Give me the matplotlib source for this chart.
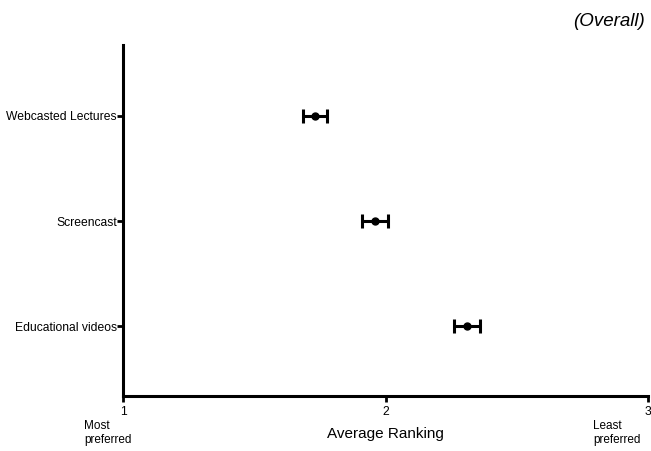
import matplotlib.pyplot as plt

plt.rcParams['font.family'] = ['Liberation Sans', 'DejaVu Sans']

categories = ['Educational videos', 'Screencast', 'Webcasted Lectures']
mean_rank = [2.31, 1.96, 1.73]
error = [0.05, 0.048, 0.046]
ypos = [1, 2, 3]

fig = plt.figure(figsize=(6.51, 4.51), dpi=100)
ax = fig.add_axes([0.189, 0.122, 0.8064, 0.778])

ax.errorbar(mean_rank, ypos, xerr=error, fmt='o', color='black',
            markersize=5, elinewidth=2.2, capsize=5, capthick=2.2)

ax.set_xlim(1, 3)
ax.set_ylim(0.34, 3.67)
ax.set_xticks([1, 2, 3])
ax.set_yticks(ypos)
ax.set_yticklabels(categories)
ax.tick_params(axis='both', direction='out', length=4, width=2, labelsize=8.7, pad=0.5)
ax.tick_params(axis='x', pad=3)

for side in ['top', 'right']:
    ax.spines[side].set_visible(False)
for side in ['left', 'bottom']:
    ax.spines[side].set_linewidth(2.2)

ax.set_xlabel('Average Ranking', fontsize=11, labelpad=7)

fig.text(0.129, 0.04, 'Most\npreferred', fontsize=8.5, ha='left', va='center', linespacing=1.3)
fig.text(0.911, 0.04, 'Least\npreferred', fontsize=8.5, ha='left', va='center', linespacing=1.3)
fig.text(0.99, 0.952, '(Overall)', fontsize=13.5, style='italic', ha='right', va='center')

plt.savefig('out.png')
